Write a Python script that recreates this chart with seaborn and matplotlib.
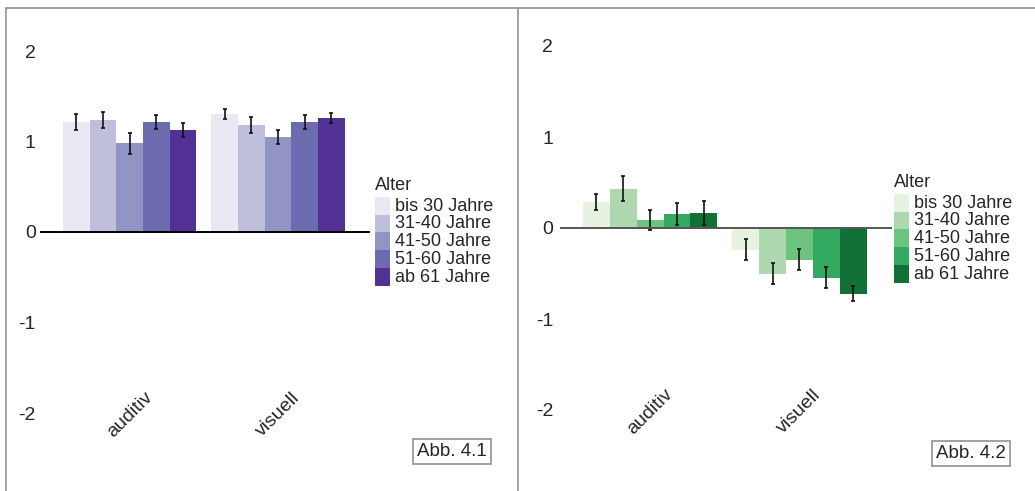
import numpy as np
import pandas as pd
import matplotlib
matplotlib.use("Agg")
import matplotlib.pyplot as plt
from matplotlib.lines import Line2D
import seaborn as sns

# Daten
kategorien = ["auditiv", "visuell"]
alter = ["bis 30 Jahre", "31-40 Jahre", "41-50 Jahre", "51-60 Jahre", "ab 61 Jahre"]

links_auditiv = [1.215, 1.24, 0.98, 1.215, 1.127]
links_visuell = [1.30, 1.18, 1.05, 1.215, 1.26]
links_err_auditiv = [0.085, 0.087, 0.116, 0.077, 0.074]
links_err_visuell = [0.055, 0.088, 0.077, 0.074, 0.057]

rechts_auditiv = [0.286, 0.43, 0.088, 0.154, 0.165]
rechts_visuell = [-0.238, -0.50, -0.348, -0.546, -0.722]
rechts_err_auditiv = [0.093, 0.137, 0.113, 0.125, 0.13]
rechts_err_visuell = [0.115, 0.115, 0.115, 0.115, 0.085]

lila = ["#EAE9F3", "#BFBFDC", "#9294C4", "#6C6BAF", "#513193"]
gruen = ["#E6F3E1", "#AED9B0", "#6CC47F", "#32AA62", "#107035"]

sns.set_style("white")
plt.rcParams["font.family"] = ["Liberation Sans", "DejaVu Sans"]

W, H = 1035, 491
fig = plt.figure(figsize=(W / 100, H / 100), dpi=100)


def px_axes(x0, x1, y_top, y_bot):
    return fig.add_axes([x0 / W, 1 - y_bot / H, (x1 - x0) / W, (y_bot - y_top) / H])


def panel(ax, auditiv, visuell, err_a, err_v, farben, nulllinie, legend_pos, ypad):
    df = pd.DataFrame({
        "Modalitaet": [kategorien[0]] * 5 + [kategorien[1]] * 5,
        "Alter": alter * 2,
        "Wert": auditiv + visuell,
    })
    sns.barplot(data=df, x="Modalitaet", y="Wert", hue="Alter", order=kategorien,
                hue_order=alter, palette=farben, width=0.9, saturation=1,
                errorbar=None, linewidth=0, edgecolor="none", ax=ax)
    # Fehlerbalken
    balken = list(ax.containers)
    for i, cont in enumerate(balken):
        xs = [b.get_x() + b.get_width() / 2 for b in cont]
        ys = [auditiv[i], visuell[i]]
        es = [err_a[i], err_v[i]]
        ax.errorbar(xs, ys, yerr=es, fmt="none", ecolor="#111111",
                    elinewidth=1.2, capsize=1.7, capthick=1.2, zorder=5)
    ax.axhline(0, color=nulllinie, lw=1.4, zorder=6)
    ax.set_xlim(-0.604, 1.62)
    ax.set_ylim(-2, 2)
    ax.set_yticks([-2, -1, 0, 1, 2])
    ax.set_yticklabels(["-2", "-1", "0", "1", "2"], fontsize=14)
    ax.set_xticks([0, 1])
    ax.set_xticklabels(kategorien, rotation=45, ha="center", va="center", fontsize=14)
    ax.tick_params(axis="y", length=0, pad=ypad)
    ax.tick_params(axis="x", length=0, pad=1)
    ax.set_xlabel("")
    ax.set_ylabel("")
    for s in ax.spines.values():
        s.set_visible(False)
    ax.patch.set_alpha(0)
    leg = ax.legend(loc="upper left",
                    bbox_to_anchor=(legend_pos[0] / W, 1 - legend_pos[1] / H),
                    bbox_transform=fig.transFigure, frameon=False, borderpad=0,
                    fontsize=13, handlelength=0.83, handleheight=0.9,
                    handletextpad=0.3, labelspacing=0, borderaxespad=0)
    # Legendenfelder lückenlos bis zur Textunterkante ziehen
    for h in leg.legend_handles:
        h.set_edgecolor("none")
        oben = h.get_y() + h.get_height()
        h.set_y(-3.0)
        h.set_height(oben + 3.0)
    fig.text(legend_pos[0] / W, 1 - (legend_pos[1] - 7) / H, "Alter",
             ha="left", va="baseline", fontsize=13)


ax1 = px_axes(40, 370, 51, 413)
panel(ax1, links_auditiv, links_visuell, links_err_auditiv, links_err_visuell,
      lila, "black", (375, 197), 3)

ax2 = px_axes(560, 892, 46, 410)
panel(ax2, rechts_auditiv, rechts_visuell, rechts_err_auditiv, rechts_err_visuell,
      gruen, "#555555", (894, 194), 5)

# Rahmen
rc = "#9a9a9a"
fig.add_artist(Line2D([6 / W, 1], [1 - 8 / H, 1 - 8 / H], color=rc, lw=1.3))
fig.add_artist(Line2D([6 / W, 6 / W], [0, 1 - 8 / H], color=rc, lw=1.3))
fig.add_artist(Line2D([518 / W, 518 / W], [0, 1 - 8 / H], color=rc, lw=1.3))

box = dict(boxstyle="square,pad=0.22", facecolor="white", edgecolor=rc, lw=1.3)
fig.text(452 / W, 1 - 451.5 / H, "Abb. 4.1", ha="center", va="center", fontsize=13.5, bbox=box)
fig.text(971 / W, 1 - 453.5 / H, "Abb. 4.2", ha="center", va="center", fontsize=13.5, bbox=box)

fig.savefig("out.png", dpi=100)
